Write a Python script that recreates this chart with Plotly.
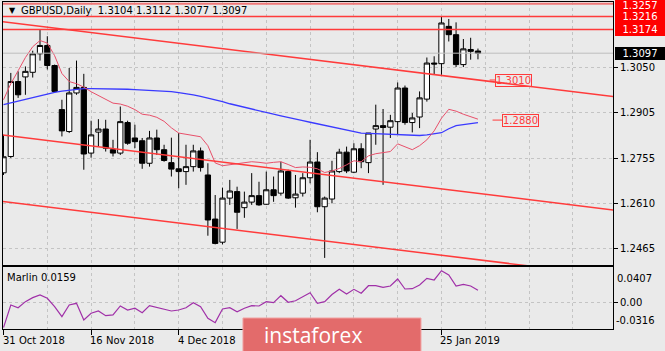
import plotly.graph_objects as go

# ---------------- data ----------------
bars = list(range(66))
opens = [1.2709, 1.2762, 1.3005, 1.3020, 1.3035, 1.3095, 1.3122, 1.3057, 1.2914, 1.2843,
         1.2968, 1.2986, 1.2773, 1.2841, 1.2851, 1.2784, 1.2773, 1.2872, 1.2822, 1.2813,
         1.2740, 1.2822, 1.2784, 1.2742, 1.2722, 1.2713, 1.2729, 1.2780, 1.2702, 1.2559,
         1.2484, 1.2627, 1.2648, 1.2596, 1.2614, 1.2635, 1.2607, 1.2654, 1.2643, 1.2713,
         1.2628, 1.2643, 1.2693, 1.2744, 1.2599, 1.2624, 1.2713, 1.2776, 1.2711, 1.2787,
         1.2742, 1.2851, 1.2862, 1.2857, 1.2875, 1.2984, 1.2872, 1.2890, 1.2948, 1.3065,
         1.3063, 1.3184, 1.3157, 1.3060, 1.3109, 1.3104]
highs = [1.2832, 1.3033, 1.3038, 1.3054, 1.3105, 1.3174, 1.3152, 1.3060, 1.2946, 1.3049,
         1.3073, 1.3030, 1.2878, 1.2883, 1.2881, 1.2816, 1.2924, 1.2878, 1.2865, 1.2822,
         1.2845, 1.2849, 1.2800, 1.2823, 1.2838, 1.2800, 1.2800, 1.2791, 1.2740, 1.2637,
         1.2661, 1.2686, 1.2664, 1.2648, 1.2708, 1.2680, 1.2713, 1.2697, 1.2745, 1.2719,
         1.2702, 1.2708, 1.2816, 1.2776, 1.2632, 1.2748, 1.2787, 1.2794, 1.2805, 1.2805,
         1.2838, 1.2930, 1.2916, 1.2897, 1.3002, 1.2992, 1.2903, 1.2973, 1.3083, 1.3087,
         1.3215, 1.3208, 1.3197, 1.3143, 1.3147, 1.3112]
lows = [1.2702, 1.2757, 1.2952, 1.2962, 1.3018, 1.3073, 1.3044, 1.2968, 1.2827, 1.2838,
        1.2962, 1.2719, 1.2758, 1.2794, 1.2778, 1.2762, 1.2767, 1.2800, 1.2789, 1.2722,
        1.2729, 1.2767, 1.2745, 1.2697, 1.2659, 1.2670, 1.2713, 1.2713, 1.2505, 1.2477,
        1.2477, 1.2605, 1.2527, 1.2563, 1.2605, 1.2602, 1.2605, 1.2615, 1.2635, 1.2624,
        1.2596, 1.2632, 1.2675, 1.2581, 1.2433, 1.2610, 1.2708, 1.2708, 1.2708, 1.2724,
        1.2708, 1.2800, 1.2670, 1.2822, 1.2832, 1.2865, 1.2840, 1.2854, 1.2940, 1.3027,
        1.3027, 1.3135, 1.3052, 1.3052, 1.3076, 1.3077]
closes = [1.2761, 1.3005, 1.2962, 1.3038, 1.3095, 1.3122, 1.3057, 1.2973, 1.2845, 1.2968,
          1.2986, 1.2770, 1.2832, 1.2851, 1.2789, 1.2773, 1.2875, 1.2805, 1.2810, 1.2740,
          1.2822, 1.2784, 1.2749, 1.2721, 1.2713, 1.2729, 1.2780, 1.2726, 1.2556, 1.2480,
          1.2627, 1.2650, 1.2581, 1.2614, 1.2635, 1.2605, 1.2654, 1.2635, 1.2715, 1.2627,
          1.2640, 1.2693, 1.2744, 1.2599, 1.2627, 1.2715, 1.2776, 1.2715, 1.2787, 1.2745,
          1.2838, 1.2862, 1.2856, 1.2878, 1.2984, 1.2872, 1.2887, 1.2952, 1.3065, 1.3062,
          1.3195, 1.3157, 1.3060, 1.3111, 1.3103, 1.3097]

ma_blue = [1.2930, 1.2936, 1.2941, 1.2946, 1.2952, 1.2959, 1.2964, 1.2970, 1.2974, 1.2977,
           1.2980, 1.2982, 1.2982, 1.2982, 1.2982, 1.2981, 1.2981, 1.2980, 1.2979, 1.2978,
           1.2977, 1.2975, 1.2974, 1.2972, 1.2969, 1.2966, 1.2962, 1.2957, 1.2952, 1.2946,
           1.2940, 1.2933, 1.2927, 1.2923, 1.2917, 1.2910, 1.2904, 1.2899, 1.2894, 1.2888,
           1.2883, 1.2878, 1.2873, 1.2868, 1.2863, 1.2858, 1.2852, 1.2847, 1.2842, 1.2838,
           1.2837, 1.2836, 1.2835, 1.2835, 1.2834, 1.2832, 1.2831, 1.2830, 1.2832, 1.2835,
           1.2839, 1.2852, 1.2862, 1.2865, 1.2869, 1.2872]
ma_red = [1.2946, 1.2998, 1.3040, 1.3083, 1.3118, 1.3138, 1.3130, 1.3089, 1.3031, 1.3005,
          1.2998, 1.2987, 1.2972, 1.2959, 1.2946, 1.2935, 1.2932, 1.2925, 1.2914, 1.2899,
          1.2896, 1.2889, 1.2876, 1.2855, 1.2838, 1.2834, 1.2831, 1.2826, 1.2797, 1.2741,
          1.2732, 1.2735, 1.2738, 1.2740, 1.2745, 1.2743, 1.2740, 1.2743, 1.2745, 1.2736,
          1.2726, 1.2728, 1.2727, 1.2722, 1.2710, 1.2715, 1.2723, 1.2735, 1.2748, 1.2745,
          1.2764, 1.2771, 1.2774, 1.2778, 1.2803, 1.2793, 1.2784, 1.2797, 1.2816, 1.2845,
          1.2886, 1.2915, 1.2909, 1.2899, 1.2891, 1.2883]
marlin = [-0.0316, -0.0029, -0.0064, 0.0013, 0.0064, 0.0098, 0.0056, -0.0051, -0.0178, -0.0029,
          -0.0008, -0.0220, -0.0135, -0.0106, -0.0165, -0.0156, -0.0042, -0.0093, -0.0071, -0.0127,
          -0.0038, -0.0064, -0.0084, -0.0106, -0.0093, -0.0064, 0.0000, -0.0051, -0.0198, -0.0254,
          -0.0080, -0.0064, -0.0115, -0.0071, -0.0038, -0.0042, 0.0013, 0.0000, 0.0089, 0.0005,
          0.0025, 0.0076, 0.0127, -0.0008, 0.0013, 0.0104, 0.0170, 0.0111, 0.0170, 0.0120,
          0.0216, 0.0216, 0.0196, 0.0212, 0.0302, 0.0174, 0.0178, 0.0225, 0.0310, 0.0289,
          0.0407, 0.0352, 0.0212, 0.0234, 0.0212, 0.0159]

# trend channel anchors (bar index, price)
channel_bars = [-1, 84]
channel_top = [1.3202, 1.2955]
channel_mid = [1.2834, 1.2587]
channel_low = [1.2619, 1.2372]

levels = [1.3257, 1.3216, 1.3174]
last_price = 1.3097
price_ticks = [1.3050, 1.2905, 1.2755, 1.2610, 1.2465]
price_labels = ["1.3050", "1.2905", "1.2755", "1.2610", "1.2465"]
tag_bars = [66.6, 67.0]
tag_values = [1.3010, 1.2880]
tag_texts = ["1.3010", "1.2880"]
marlin_max, marlin_min = 0.0407, -0.0316
date_bars = [0, 12, 24, 60]
date_labels = ["31 Oct 2018", "16 Nov 2018", "4 Dec 2018", "25 Jan 2019"]
date_tick_bars = [0, 12, 24, 36, 48, 60]
grid_bars = list(range(0, 84, 6))

# ---------------- style ----------------
BG = "#eaeaea"
GRID = "#c4c4c4"
FONT = "DejaVu Sans"
RED = "#ff3b3b"

fig = go.Figure()
fig.add_trace(go.Candlestick(
    x=bars, open=opens, high=highs, low=lows, close=closes,
    increasing=dict(line=dict(color="black", width=1), fillcolor="white"),
    decreasing=dict(line=dict(color="black", width=1), fillcolor="black"),
    whiskerwidth=0, xaxis="x", yaxis="y", showlegend=False, hoverinfo="skip"))

fig.add_trace(go.Scatter(x=bars, y=ma_blue, mode="lines", line=dict(color="#3a3aff", width=1.3),
                         xaxis="x", yaxis="y", showlegend=False, hoverinfo="skip"))
fig.add_trace(go.Scatter(x=bars, y=ma_red, mode="lines", line=dict(color="#e8506a", width=1),
                         xaxis="x", yaxis="y", showlegend=False, hoverinfo="skip"))
for ch in (channel_top, channel_mid, channel_low):
    fig.add_trace(go.Scatter(x=channel_bars, y=ch, mode="lines", line=dict(color=RED, width=1.5),
                             xaxis="x", yaxis="y", showlegend=False, hoverinfo="skip"))

fig.add_trace(go.Scatter(x=bars, y=marlin, mode="lines", line=dict(color="#a030a8", width=1.2),
                         xaxis="x2", yaxis="y2", showlegend=False, hoverinfo="skip"))

xr = [-0.07, 83.5]
axis_common = dict(showline=True, linecolor="black", linewidth=1, mirror=True, zeroline=False)
grid_common = dict(showgrid=True, gridcolor=GRID, griddash="3px,3px", gridwidth=1)

shapes = []
for i, lv in enumerate(levels):
    shapes.append(dict(type="line", xref="x domain", yref="y", x0=0, x1=1, y0=lv, y1=lv,
                       line=dict(color="#f07878" if i == 0 else RED, width=2 if i == 0 else 1.5)))
shapes.append(dict(type="line", xref="x domain", yref="y", x0=0, x1=1, y0=last_price, y1=last_price,
                   line=dict(color="#bdbdbd", width=1)))
# watermark box
shapes.append(dict(type="rect", xref="paper", yref="paper", x0=0.3934, x1=0.6852, y0=-0.075, y1=0.0336,
                   fillcolor="#e36b6b", line=dict(color="#f2a2a2", width=1), layer="above"))

annotations = []
annotations.append(dict(text="▼", xref="paper", yref="paper", x=0.0066, y=0.9755, xanchor="left",
                        yanchor="middle", showarrow=False, font=dict(family=FONT, size=8, color="black")))
annotations.append(dict(text="GBPUSD,Daily\u00a0 %.4f %.4f %.4f %.4f" % (opens[-1], highs[-1], lows[-1], closes[-1]),
                        xref="paper", yref="paper", x=0.026, y=0.9755, xanchor="left", yanchor="middle",
                        showarrow=False, font=dict(family=FONT, size=10, color="black")))
annotations.append(dict(text="Marlin %.4f" % marlin[-1], xref="paper", yref="paper", x=0.004, y=0.158,
                        xanchor="left", yanchor="middle", showarrow=False,
                        font=dict(family=FONT, size=10, color="black")))
for i, lv in enumerate(levels):
    annotations.append(dict(text="%.4f" % lv, xref="paper", yref="y", x=1, y=lv, xanchor="left",
                            yanchor="middle", xshift=2, yshift=-2 if i == 0 else 0, showarrow=False,
                            bgcolor="#ff0000", bordercolor="#ff0000", borderwidth=1, borderpad=0,
                            width=48, height=11, font=dict(family=FONT, size=10, color="white")))
annotations.append(dict(text="%.4f" % last_price, xref="paper", yref="y", x=1, y=last_price, xanchor="left",
                        yanchor="middle", xshift=2, showarrow=False, bgcolor="black", bordercolor="black",
                        borderwidth=1, borderpad=0, width=48, height=11,
                        font=dict(family=FONT, size=10, color="white")))
for b, v, t in zip(tag_bars, tag_values, tag_texts):
    annotations.append(dict(text=t, xref="x", yref="y", x=b, y=v, showarrow=True, arrowhead=0,
                            arrowcolor=RED, arrowwidth=1, ax=24 if t == "1.3010" else 28, ay=0,
                            bordercolor=RED, borderwidth=1, borderpad=0, bgcolor="rgba(0,0,0,0)",
                            font=dict(family=FONT, size=10, color=RED)))
annotations.append(dict(text="%.4f" % marlin_max, xref="paper", yref="y2", x=1, y=marlin_max, xanchor="left",
                        yanchor="top", xshift=2, showarrow=False, font=dict(family=FONT, size=10, color="black")))
annotations.append(dict(text="%.4f" % marlin_min, xref="paper", yref="y2", x=1, y=marlin_min, xanchor="left",
                        yanchor="bottom", xshift=1, showarrow=False, font=dict(family=FONT, size=10, color="black")))
for b, t in zip(date_bars, date_labels):
    annotations.append(dict(text=t, xref="x2", yref="paper", x=b, y=-0.034, xanchor="left", yanchor="middle",
                            xshift=-3, showarrow=False, font=dict(family=FONT, size=10, color="black")))
annotations.append(dict(text="instaforex", xref="paper", yref="paper", x=0.4246, y=-0.019, xanchor="left",
                        yanchor="middle", showarrow=False, font=dict(family="Open Sans", size=21, color="white")))

fig.update_layout(
    width=665, height=351, margin=dict(l=3, r=52, t=2, b=22),
    paper_bgcolor=BG, plot_bgcolor=BG, showlegend=False, boxgap=0.2, boxgroupgap=0.1,
    xaxis=dict(domain=[0, 1], anchor="y", range=xr, tickvals=grid_bars, showticklabels=False, ticks="",
               rangeslider=dict(visible=False), **axis_common, **grid_common),
    yaxis=dict(domain=[0.1957, 1], anchor="x", side="right", range=[1.2410, 1.3263],
               tickvals=price_ticks, ticktext=price_labels, ticks="outside", ticklen=4, tickcolor="black",
               tickfont=dict(family=FONT, size=10, color="black"), **axis_common, **grid_common),
    xaxis2=dict(domain=[0, 1], anchor="y2", range=xr, tickvals=date_tick_bars, showticklabels=False,
                ticks="outside", ticklen=5, tickcolor="black",
                minor=dict(tickvals=grid_bars, showgrid=True, gridcolor=GRID, griddash="3px,3px", ticks=""),
                rangeslider=dict(visible=False), **axis_common, **grid_common),
    yaxis2=dict(domain=[0, 0.1881], anchor="x2", side="right", range=[-0.0335, 0.0448],
                tickvals=[0], ticktext=["0.00"], ticks="outside", ticklen=4, tickcolor="black",
                tickfont=dict(family=FONT, size=10, color="black"), **axis_common, **grid_common),
    shapes=shapes, annotations=annotations,
)

fig.write_html("out.html")
